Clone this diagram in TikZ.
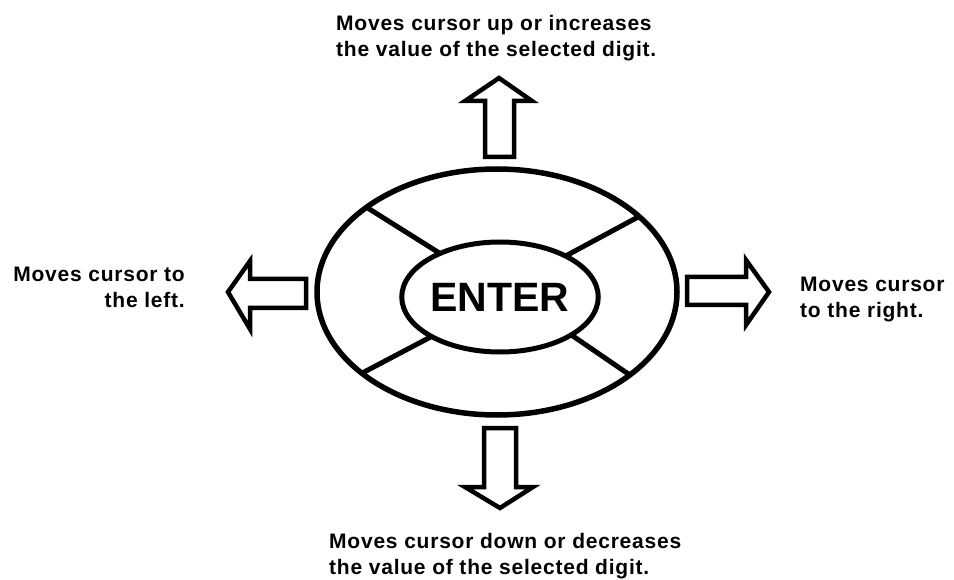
\documentclass[tikz,border=0pt]{standalone}
\usepackage{fontspec}
\setmainfont{Liberation Sans}
\newfontfamily\lblfont{Liberation Sans}[LetterSpace=3.7]
\usetikzlibrary{shapes.geometric}
\begin{document}
\begin{tikzpicture}[x=1pt,y=-1pt,
  ring/.style={draw, ellipse, line width=5.5pt, inner sep=0pt, outer sep=0pt},
  spoke/.style={line width=5pt},
  bigarrow/.style={draw, line width=4.5pt, line join=miter, miter limit=20},
  lbl/.style={font=\lblfont\fontsize{21}{26}\selectfont\bfseries, inner sep=0pt}]
\useasboundingbox (0,0) rectangle (954,580);
\node[ring, minimum width=360pt, minimum height=246pt] (outer) at (497,292) {};
\node[ring, line width=5pt, minimum width=162pt, minimum height=110pt,
      font=\fontsize{41}{41}\selectfont\bfseries] (inner) at (500,297) {ENTER};
\draw[spoke] (outer.147) -- (inner.144);
\draw[spoke] (outer.28) -- (inner.32);
\draw[spoke] (outer.211) -- (inner.210);
\draw[spoke] (outer.328) -- (inner.332);
% arrows
\draw[bigarrow] (485,157) -- (485,101) -- (465,101) -- (499,78) -- (532,101) -- (514,101) -- (514,157) -- cycle;
\draw[bigarrow] (484,428) -- (516,428) -- (516,487) -- (533,487) -- (500,508) -- (465,487) -- (484,487) -- cycle;
\draw[bigarrow] (306,279) -- (306,308) -- (250,308) -- (250,329) -- (228,292) -- (250,261) -- (250,279) -- cycle;
\draw[bigarrow] (687,277) -- (687,305) -- (746,305) -- (746,325) -- (769,292) -- (746,260) -- (746,277) -- cycle;
% labels (base anchor = baseline of the last line)
\node[lbl, anchor=base west, align=left] (up) at (336,57) {Moves cursor up or increases\\the value of the selected digit.};
\node[lbl, anchor=base west, align=left] (down) at (329,574) {Moves cursor down or decreases\\the value of the selected digit.};
\node[lbl, anchor=base east, align=right] (left) at (185,308) {Moves cursor to\\the left.};
\node[lbl, anchor=base west, align=left] (right) at (800,318) {Moves cursor\\to the right.};
\end{tikzpicture}
\end{document}
